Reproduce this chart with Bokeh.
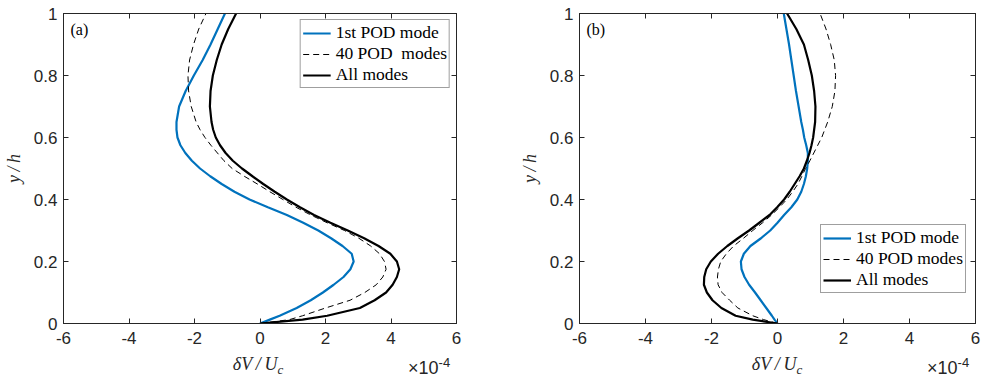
from bokeh.plotting import figure
from bokeh.models import Range1d, FixedTicker, LinearAxis, Label, Div
from bokeh.layouts import row, column
from bokeh.embed import file_html
from bokeh.resources import INLINE

# ---------------- data (values in units of 1e-4) ----------------
y_pts = [0, 0.0125, 0.025, 0.05, 0.075, 0.1, 0.125, 0.15, 0.175, 0.2, 0.225, 0.25,
         0.275, 0.3, 0.325, 0.35, 0.375, 0.4, 0.425, 0.45, 0.475, 0.5, 0.525, 0.55,
         0.575, 0.6, 0.625, 0.65, 0.7, 0.75, 0.8, 0.85, 0.9, 0.95, 1.0]

a_first = [0, 0.30, 0.60, 1.12, 1.55, 1.92, 2.25, 2.55, 2.76, 2.86, 2.80, 2.52,
           2.17, 1.78, 1.32, 0.82, 0.24, -0.32, -0.78, -1.17, -1.52, -1.83, -2.08, -2.28,
           -2.43, -2.52, -2.55, -2.55, -2.47, -2.27, -2.02, -1.75, -1.51, -1.29, -1.07]
a_forty = [0, 0.90, 1.30, 2.00, 2.75, 3.20, 3.55, 3.75, 3.85, 3.80, 3.65, 3.38,
           3.02, 2.58, 2.05, 1.55, 1.10, 0.70, 0.30, -0.08, -0.48, -0.85, -1.10, -1.30,
           -1.50, -1.68, -1.83, -1.95, -2.10, -2.18, -2.20, -2.15, -2.03, -1.87, -1.65]
a_all = [0, 1.30, 2.05, 3.05, 3.50, 3.85, 4.05, 4.18, 4.25, 4.18, 3.98, 3.62,
         3.18, 2.68, 2.15, 1.65, 1.22, 0.82, 0.45, 0.10, -0.23, -0.55, -0.83, -1.05,
         -1.22, -1.35, -1.43, -1.48, -1.53, -1.51, -1.44, -1.32, -1.17, -0.97, -0.73]

b_first = [0, -0.09, -0.17, -0.34, -0.51, -0.68, -0.86, -1.00, -1.09, -1.11, -1.02, -0.82,
           -0.50, -0.22, 0.00, 0.20, 0.42, 0.60, 0.72, 0.80, 0.86, 0.90, 0.92, 0.92,
           0.87, 0.81, 0.77, 0.72, 0.64, 0.56, 0.49, 0.42, 0.35, 0.27, 0.19]
b_forty = [0, -0.42, -0.75, -1.20, -1.45, -1.68, -1.80, -1.82, -1.79, -1.72, -1.55, -1.33,
           -1.03, -0.75, -0.45, -0.18, 0.06, 0.28, 0.46, 0.62, 0.74, 0.85, 0.98, 1.10,
           1.22, 1.34, 1.43, 1.52, 1.66, 1.74, 1.76, 1.72, 1.61, 1.47, 1.29]
b_all = [0, -0.75, -1.27, -1.70, -1.97, -2.14, -2.23, -2.22, -2.16, -2.02, -1.80, -1.52,
         -1.20, -0.86, -0.55, -0.24, -0.01, 0.20, 0.37, 0.52, 0.67, 0.80, 0.89, 0.97,
         1.03, 1.08, 1.11, 1.14, 1.15, 1.11, 1.04, 0.93, 0.80, 0.57, 0.29]

x_ticks = [-6, -4, -2, 0, 2, 4, 6]
x_tick_labels = ["-6", "-4", "-2", "0", "2", "4", "6"]
y_ticks = [0, 0.2, 0.4, 0.6, 0.8, 1.0]
y_tick_labels = ["0", "0.2", "0.4", "0.6", "0.8", "1"]

labels_a = ["1st POD mode", "40 POD  modes", "All modes"]
labels_b = ["1st POD mode", "40 POD modes", "All modes"]

y_label = "y\u2009/\u2009h"
x_label_main = "\u03b4V\u2009/\u2009U"
x_label_sub = "c"
exp_base = "\u00d710"
exp_power = "-4"

BLUE = "#0072BD"
AX = "#262626"
SANS = "Liberation Sans"
SERIF = "Liberation Serif"


def make_panel(first, forty, allm, names, tag, borders, legend_loc):
    left, right, top, bottom = borders
    p = figure(width=492, height=354, output_backend="svg", toolbar_location=None,
               x_range=Range1d(-6, 6), y_range=Range1d(0, 1),
               min_border_left=left, min_border_right=right,
               min_border_top=top, min_border_bottom=bottom)
    p.xgrid.visible = False
    p.ygrid.visible = False
    p.outline_line_color = AX
    p.outline_line_width = 1
    p.background_fill_color = "white"

    xt = FixedTicker(ticks=x_ticks)
    yt = FixedTicker(ticks=y_ticks)
    for ax, tk, lbls, standoff in ((p.xaxis[0], xt, x_tick_labels, 8),
                                   (p.yaxis[0], yt, y_tick_labels, 6)):
        ax.ticker = tk
        ax.major_label_overrides = {t: l for t, l in zip(tk.ticks, lbls)}
        ax.major_tick_in = 5
        ax.major_tick_out = 0
        ax.minor_tick_line_color = None
        ax.axis_line_color = AX
        ax.major_tick_line_color = AX
        ax.major_label_text_color = AX
        ax.major_label_text_font = SANS
        ax.major_label_text_font_size = "17px"
        ax.major_label_standoff = standoff

    p.yaxis[0].axis_label = y_label
    p.yaxis[0].axis_label_text_font = SERIF
    p.yaxis[0].axis_label_text_font_style = "italic"
    p.yaxis[0].axis_label_text_font_size = "18px"
    p.yaxis[0].axis_label_text_color = AX
    p.yaxis[0].axis_label_standoff = 7

    for side, tk in (("above", xt), ("right", yt)):
        ax = LinearAxis(ticker=tk, major_tick_in=5, major_tick_out=0,
                        minor_tick_line_color=None, axis_line_color=AX,
                        major_tick_line_color=AX,
                        major_label_overrides={t: "" for t in tk.ticks},
                        major_label_text_font_size="0px", major_label_standoff=0)
        p.add_layout(ax, side)

    p.line(first, y_pts, line_color=BLUE, line_width=2.2, legend_label=names[0])
    p.line(forty, y_pts, line_color="black", line_width=1, line_dash="6 4",
           legend_label=names[1])
    p.line(allm, y_pts, line_color="black", line_width=2.2, legend_label=names[2])

    lg = p.legend[0]
    lg.location = legend_loc
    lg.margin = 6
    lg.padding = 2
    lg.spacing = 0
    lg.glyph_width = 28
    lg.glyph_height = 18
    lg.label_height = 18
    lg.label_standoff = 5
    lg.label_text_font = SERIF
    lg.label_text_font_size = "17.5px"
    lg.label_text_color = "black"
    lg.border_line_color = "#404040"
    lg.border_line_width = 1
    lg.background_fill_color = "white"
    lg.background_fill_alpha = 1

    p.add_layout(Label(x=-6, y=1, x_offset=7, y_offset=-7, text=tag,
                       text_font=SERIF, text_font_size="16px", text_color="black",
                       text_baseline="top", text_align="left"))
    return p


pa = make_panel(a_first, a_forty, a_all, labels_a, "(a)", (61, 36, 12, 31), "top_right")
pb = make_panel(b_first, b_forty, b_all, labels_b, "(b)", (87, 9, 13, 29), (241, 30))


def xlabel_html(center, exp_left):
    return (
        f'<span style="position:absolute;left:{center}px;top:1px;transform:translateX(-50%);'
        f"font-family:'{SERIF}';font-style:italic;font-size:18px;line-height:1;"
        f'white-space:nowrap;color:{AX}">{x_label_main}'
        f'<span style="font-size:13px;position:relative;top:4px">{x_label_sub}</span></span>'
        f'<span style="position:absolute;left:{exp_left}px;top:5px;'
        f"font-family:'{SANS}';font-size:18px;line-height:1;white-space:nowrap;color:{AX}\">"
        f'{exp_base}<span style="font-size:13px;position:relative;top:-7px">{exp_power}</span></span>'
    )


html = ('<div style="position:relative;width:984px;height:26px;margin:0;padding:0">'
        + xlabel_html(258, 408) + xlabel_html(777, 927) + '</div>')
bottom_div = Div(text=html, width=984, height=26, margin=0)

layout = column(row(pa, pb), bottom_div)
open("out.html", "w").write(file_html(layout, INLINE))
